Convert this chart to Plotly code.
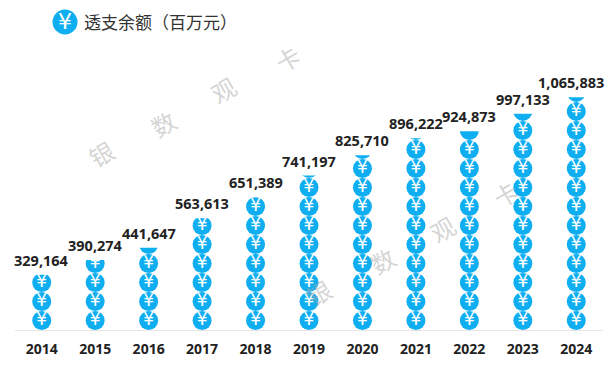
import plotly.graph_objects as go

years = ["2014","2015","2016","2017","2018","2019","2020","2021","2022","2023","2024"]
values = [329164,390274,441647,563613,651389,741197,825710,896222,924873,997133,1065883]
label_nudges = [0,0,0,0,0,0,0,0,0,0,-5.5]
series_name = "透支余额（百万元）"
axis_min = 100000
axis_max = 1220700
unit = 78900   # value represented by one icon
blue = "#0FAEF0"

ML, MR, MT, MB = 15, 11.3, 60, 40
W, H = 614, 370
def px_x(px): return (px - ML) / (W - ML - MR)
def px_y(py): return 1 - (py - MT) / (H - MT - MB)

xs, ys, glyphs = [], [], []
for yr, v in zip(years, values):
    i = 0
    while axis_min + i * unit < v:
        centre = axis_min + (i + 0.5) * unit
        xs.append(yr)
        ys.append(centre)
        glyphs.append("¥" if centre < v else "")
        i += 1

fig = go.Figure()
fig.add_trace(go.Scatter(x=xs, y=ys, mode="markers+text", text=glyphs,
                         textposition="middle center",
                         textfont=dict(family="DejaVu Sans", size=17, color="white"),
                         marker=dict(size=19, color=blue, line=dict(width=0)),
                         cliponaxis=False, hoverinfo="skip", showlegend=False))
# Cut the top icon off at the value
fig.add_trace(go.Bar(x=years, y=[axis_max - v for v in values], base=values, yaxis="y2",
                     width=0.5, marker=dict(color="white", line=dict(width=0)),
                     hoverinfo="skip", showlegend=False))

ann = []
for i, (v, nudge) in enumerate(zip(values, label_nudges)):
    ann.append(dict(x=i, y=v, xref="x", yref="y", text=f"{v:,}", showarrow=False, yanchor="bottom",
                    yshift=5, xshift=nudge, borderpad=0, borderwidth=0,
                    font=dict(family="Noto Sans", size=14.5, color="#222222", weight="bold")))

wm_rows = [[(101,153),(163,123),(223,89),(287,58)], [(318,292),(382,260),(442,228),(505,193)]]
for row in wm_rows:
    for ch, (px, py) in zip("银数观卡", row):
        ann.append(dict(x=px_x(px), y=px_y(py), xref="paper", yref="paper", text=ch, showarrow=False,
                        textangle=-30, xanchor="center", yanchor="middle",
                        font=dict(family="Noto Sans CJK SC", size=24, color="rgba(170,170,170,0.5)")))
ann.append(dict(x=px_x(84), y=px_y(22), xref="paper", yref="paper", text=series_name, showarrow=False,
                xanchor="left", yanchor="middle", xshift=-2,
                font=dict(family="Noto Sans CJK SC", size=17, color="#333333")))
ann.append(dict(x=px_x(65), y=px_y(22), xref="paper", yref="paper", text="¥", showarrow=False,
                xanchor="center", yanchor="middle",
                font=dict(family="DejaVu Sans", size=22, color="white")))

fig.update_layout(
    width=W, height=H, margin=dict(l=ML, r=MR, t=MT, b=MB),
    paper_bgcolor="white", plot_bgcolor="white", showlegend=False,
    xaxis=dict(type="category", range=[-0.5, 10.5], showgrid=False, showline=True, linecolor="#E6E6E6",
               linewidth=1, ticks="outside", ticklen=6, tickcolor="rgba(0,0,0,0)",
               tickfont=dict(family="Noto Sans", size=14, color="#222222", weight="bold")),
    yaxis=dict(range=[axis_min, axis_max], visible=False),
    yaxis2=dict(range=[axis_min, axis_max], visible=False, overlaying="y"),
    annotations=ann,
    shapes=[dict(type="circle", xref="paper", yref="paper", layer="below",
                 x0=px_x(52.5), x1=px_x(77.5), y0=px_y(34.5), y1=px_y(9.5),
                 fillcolor=blue, line=dict(width=0))],
)
fig.write_html("out.html", config={"displayModeBar": False},
               post_script="document.body.style.margin='0';")
